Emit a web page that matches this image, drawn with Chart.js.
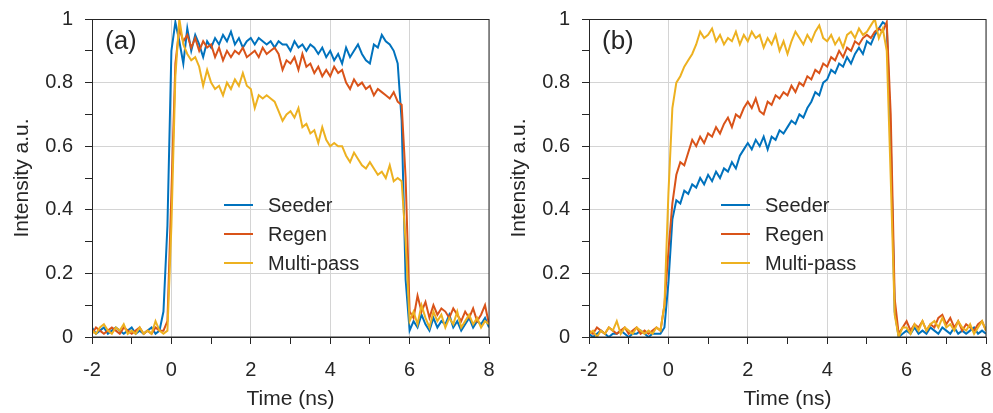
<!DOCTYPE html>
<html>
<head>
<meta charset="utf-8">
<script src="https://cdn.jsdelivr.net/npm/chart.js@4.4.0/dist/chart.umd.min.js"></script>
<style>
  html, body { margin: 0; padding: 0; background: #fff; }
  .panel { position: absolute; top: 0; width: 496px; height: 413px; }
  #panelA { left: 0; }
  #panelB { left: 497px; }
</style>
</head>
<body>
<div class="panel" id="panelA"><canvas id="chartA"></canvas></div>
<div class="panel" id="panelB"><canvas id="chartB"></canvas></div>
<script>
// time axis, ns
const timeNs = [
  -2.0, -1.9, -1.8, -1.7, -1.6, -1.5, -1.4, -1.3, -1.2, -1.1,
  -1.0, -0.9, -0.8, -0.7, -0.6, -0.5, -0.4, -0.3, -0.2, -0.1,
  0.0, 0.1, 0.2, 0.3, 0.4, 0.5, 0.6, 0.7, 0.8, 0.9,
  1.0, 1.1, 1.2, 1.3, 1.4, 1.5, 1.6, 1.7, 1.8, 1.9,
  2.0, 2.1, 2.2, 2.3, 2.4, 2.5, 2.6, 2.7, 2.8, 2.9,
  3.0, 3.1, 3.2, 3.3, 3.4, 3.5, 3.6, 3.7, 3.8, 3.9,
  4.0, 4.1, 4.2, 4.3, 4.4, 4.5, 4.6, 4.7, 4.8, 4.9,
  5.0, 5.1, 5.2, 5.3, 5.4, 5.5, 5.6, 5.7, 5.8, 5.9,
  6.0, 6.1, 6.2, 6.3, 6.4, 6.5, 6.6, 6.7, 6.8, 6.9,
  7.0, 7.1, 7.2, 7.3, 7.4, 7.5, 7.6, 7.7, 7.8, 7.9, 8.0
];

// panel (a)
const seederA = [
  0.03, 0.01, 0.02, 0.03, 0.01, 0.02, 0.03, 0.02, 0.01, 0.02,
  0.03, 0.01, 0.02, 0.01, 0.02, 0.03, 0.01, 0.02, 0.08, 0.35,
  0.90, 0.99, 0.93, 0.86, 0.97, 0.90, 0.95, 0.92, 0.88, 0.93,
  0.91, 0.94, 0.92, 0.95, 0.93, 0.96, 0.92, 0.94, 0.91, 0.93,
  0.94, 0.92, 0.94, 0.93, 0.92, 0.93, 0.91, 0.93, 0.92, 0.92,
  0.90, 0.93, 0.91, 0.92, 0.90, 0.92, 0.91, 0.89, 0.91, 0.88,
  0.90, 0.87, 0.89, 0.86, 0.91, 0.88, 0.90, 0.92, 0.89, 0.87,
  0.86, 0.92, 0.91, 0.95, 0.93, 0.92, 0.90, 0.86, 0.68, 0.18,
  0.02, 0.05, 0.03, 0.07, 0.04, 0.02, 0.06, 0.03, 0.05, 0.04,
  0.07, 0.03, 0.05, 0.02, 0.04, 0.06, 0.03, 0.05, 0.04, 0.06, 0.03
];
const regenA = [
  0.01, 0.03, 0.02, 0.01, 0.02, 0.03, 0.02, 0.01, 0.03, 0.02,
  0.01, 0.02, 0.03, 0.01, 0.02, 0.01, 0.03, 0.02, 0.02, 0.05,
  0.45, 0.86, 0.97, 0.93, 0.95, 0.91, 0.94, 0.90, 0.93, 0.91,
  0.92, 0.88, 0.91, 0.87, 0.90, 0.88, 0.90, 0.89, 0.91, 0.88,
  0.89, 0.90, 0.88, 0.91, 0.89, 0.90, 0.91, 0.89, 0.84, 0.87,
  0.86, 0.88, 0.84, 0.89, 0.85, 0.86, 0.83, 0.85, 0.82, 0.84,
  0.82, 0.85, 0.83, 0.84, 0.80, 0.78, 0.81, 0.79, 0.80, 0.78,
  0.79, 0.76, 0.78, 0.77, 0.76, 0.75, 0.77, 0.74, 0.73, 0.50,
  0.08, 0.06, 0.13, 0.08, 0.11, 0.06, 0.10, 0.07, 0.09, 0.08,
  0.06, 0.09, 0.07, 0.05, 0.08, 0.06, 0.09, 0.05, 0.07, 0.10, 0.04
];
const multiPassA = [
  0.02, 0.01, 0.03, 0.04, 0.02, 0.01, 0.03, 0.02, 0.04, 0.01,
  0.02, 0.01, 0.03, 0.01, 0.02, 0.01, 0.05, 0.02, 0.01, 0.02,
  0.35, 0.82, 1.00, 0.92, 0.89, 0.87, 0.88, 0.85, 0.79, 0.84,
  0.80, 0.78, 0.79, 0.76, 0.80, 0.78, 0.81, 0.79, 0.83, 0.79,
  0.78, 0.72, 0.76, 0.75, 0.76, 0.75, 0.74, 0.71, 0.68, 0.70,
  0.71, 0.69, 0.72, 0.66, 0.67, 0.64, 0.65, 0.61, 0.66, 0.62,
  0.60, 0.61, 0.60, 0.60, 0.57, 0.55, 0.58, 0.56, 0.54, 0.53,
  0.55, 0.53, 0.51, 0.52, 0.50, 0.54, 0.49, 0.50, 0.49, 0.30,
  0.05, 0.08, 0.04, 0.10, 0.06, 0.03, 0.08, 0.05, 0.07, 0.03,
  0.06, 0.04, 0.08, 0.03, 0.05, 0.07, 0.04, 0.06, 0.03, 0.05, 0.04
];

// panel (b)
const seederB = [
  0.01, 0.00, 0.01, 0.02, 0.01, 0.00, 0.01, 0.01, 0.02, 0.01,
  0.00, 0.01, 0.01, 0.02, 0.01, 0.00, 0.01, 0.01, 0.01, 0.03,
  0.17, 0.37, 0.43, 0.42, 0.46, 0.45, 0.48, 0.47, 0.50, 0.48,
  0.51, 0.49, 0.52, 0.50, 0.53, 0.52, 0.55, 0.53, 0.57, 0.59,
  0.61, 0.59, 0.62, 0.60, 0.63, 0.59, 0.63, 0.62, 0.65, 0.64,
  0.66, 0.68, 0.67, 0.70, 0.69, 0.72, 0.74, 0.77, 0.76, 0.80,
  0.81, 0.84, 0.83, 0.86, 0.85, 0.88, 0.86, 0.89, 0.91, 0.89,
  0.93, 0.92, 0.95, 0.97, 0.99, 0.98, 0.62, 0.08, 0.00, 0.01,
  0.02, 0.01, 0.03, 0.01, 0.02, 0.01, 0.03, 0.02, 0.01, 0.03,
  0.02, 0.01, 0.03, 0.01, 0.02, 0.01, 0.02, 0.03, 0.01, 0.02, 0.01
];
const regenB = [
  0.02, 0.01, 0.03, 0.02, 0.01, 0.03, 0.02, 0.01, 0.02, 0.03,
  0.01, 0.02, 0.03, 0.01, 0.02, 0.01, 0.02, 0.03, 0.02, 0.10,
  0.27, 0.42, 0.51, 0.55, 0.54, 0.58, 0.62, 0.60, 0.63, 0.61,
  0.64, 0.63, 0.66, 0.64, 0.67, 0.69, 0.66, 0.70, 0.69, 0.72,
  0.74, 0.72, 0.75, 0.71, 0.70, 0.74, 0.73, 0.76, 0.75, 0.77,
  0.76, 0.79, 0.77, 0.80, 0.79, 0.82, 0.81, 0.84, 0.83, 0.86,
  0.85, 0.88, 0.87, 0.90, 0.88, 0.91, 0.90, 0.93, 0.92, 0.94,
  0.95, 0.94, 0.96, 0.97, 0.96, 0.99, 0.70, 0.12, 0.01, 0.03,
  0.05, 0.02, 0.04, 0.03, 0.05, 0.02, 0.04, 0.03, 0.06, 0.07,
  0.04, 0.06, 0.03, 0.05, 0.02, 0.04, 0.03, 0.02, 0.04, 0.05, 0.02
];
const multiPassB = [
  0.01, 0.02, 0.00, 0.02, 0.01, 0.03, 0.02, 0.05, 0.01, 0.03,
  0.02, 0.01, 0.03, 0.02, 0.01, 0.02, 0.01, 0.03, 0.02, 0.10,
  0.45, 0.72, 0.80, 0.82, 0.85, 0.87, 0.89, 0.92, 0.96, 0.94,
  0.95, 0.97, 0.93, 0.95, 0.92, 0.94, 0.93, 0.96, 0.92, 0.95,
  0.93, 0.96, 0.94, 0.95, 0.91, 0.94, 0.92, 0.95, 0.90, 0.93,
  0.89, 0.93, 0.96, 0.94, 0.92, 0.95, 0.93, 0.96, 0.98, 0.94,
  0.93, 0.95, 0.92, 0.94, 0.91, 0.95, 0.96, 0.94, 0.97, 0.95,
  0.96, 0.98, 1.00, 0.94, 0.97, 0.90, 0.50, 0.07, 0.00, 0.03,
  0.03, 0.01, 0.04, 0.02, 0.05, 0.02, 0.04, 0.05, 0.03, 0.06,
  0.03, 0.04, 0.02, 0.05, 0.03, 0.02, 0.04, 0.01, 0.03, 0.05, 0.02
];

const seriesNames = ['Seeder', 'Regen', 'Multi-pass'];
const seriesColors = ['#0072BD', '#D95319', '#EDB120'];
const xTickLabels = ['-2', '0', '2', '4', '6', '8'];
const yTickLabels = ['0', '0.2', '0.4', '0.6', '0.8', '1'];

const FONT = '"Liberation Sans", Arial, sans-serif';
const INK = '#262626';
const GRID = '#d4d4d4';

// box around the plot, panel letter and the in-plot legend
const decorPlugin = {
  id: 'decor',
  afterDraw(chart, args, opts) {
    const ctx = chart.ctx;
    const a = chart.chartArea;
    ctx.save();
    ctx.strokeStyle = INK;
    ctx.lineWidth = 1;
    ctx.strokeRect(a.left + 0.5, a.top + 0.5, a.right - a.left - 0.5, a.bottom - a.top - 0.5);

    ctx.fillStyle = INK;
    ctx.textBaseline = 'middle';
    ctx.font = '26px ' + FONT;
    ctx.fillText(opts.letter, a.left + 13, a.top + 23);

    ctx.font = '20px ' + FONT;
    chart.data.datasets.forEach(function(ds, i) {
      const yy = a.top + 186 + i * 29;
      ctx.strokeStyle = ds.borderColor;
      ctx.lineWidth = 2;
      ctx.beginPath();
      ctx.moveTo(a.left + 132, yy);
      ctx.lineTo(a.left + 161, yy);
      ctx.stroke();
      ctx.fillText(ds.label, a.left + 176, yy + 1);
    });
    ctx.restore();
  }
};

function makeChart(canvasId, letter, series) {
  const ctx = document.getElementById(canvasId).getContext('2d');
  return new Chart(ctx, {
    type: 'line',
    data: {
      datasets: series.map(function(vals, i) {
        return {
          label: seriesNames[i],
          data: timeNs.map(function(t, k) { return { x: t, y: vals[k] }; }),
          borderColor: seriesColors[i],
          borderWidth: 2,
          pointRadius: 0,
          tension: 0,
          order: 3 - i
        };
      })
    },
    options: {
      responsive: true,
      maintainAspectRatio: false,
      animation: false,
      layout: { padding: { left: 0, top: 19, right: 7, bottom: 0 } },
      scales: {
        x: {
          type: 'linear',
          min: -2,
          max: 8,
          afterFit: function(scale) {
            scale.height = 76;
            scale.paddingLeft = 0;
            scale.paddingRight = 0;
          },
          grid: {
            color: function(c) { return Math.round(c.tick.value) % 2 === 0 ? GRID : 'rgba(0,0,0,0)'; },
            tickColor: INK,
            tickLength: 7
          },
          border: { color: INK, width: 1 },
          ticks: {
            stepSize: 1,
            padding: 14,
            color: INK,
            font: { family: FONT, size: 20 },
            maxRotation: 0,
            autoSkip: false,
            callback: function(v) {
              const i = xTickLabels.indexOf(String(Math.round(v)));
              return (Math.round(v) % 2 === 0 && i >= 0) ? xTickLabels[i] : '';
            }
          },
          title: {
            display: true,
            text: 'Time (ns)',
            color: INK,
            font: { family: FONT, size: 21, lineHeight: 1.2 },
            padding: { top: 0, bottom: 1 }
          }
        },
        y: {
          min: 0,
          max: 1,
          afterFit: function(scale) {
            scale.width = 92;
            scale.paddingTop = 0;
            scale.paddingBottom = 0;
          },
          grid: {
            color: function(c) { return Math.round(c.tick.value * 10) % 2 === 0 ? GRID : 'rgba(0,0,0,0)'; },
            tickColor: INK,
            tickLength: 7
          },
          border: { color: INK, width: 1 },
          ticks: {
            stepSize: 0.1,
            padding: 12,
            color: INK,
            font: { family: FONT, size: 20 },
            autoSkip: false,
            callback: function(v) {
              const n = Math.round(v * 10);
              return n % 2 === 0 ? yTickLabels[n / 2] : '';
            }
          },
          title: {
            display: true,
            text: 'Intensity a.u.',
            color: INK,
            font: { family: FONT, size: 21, lineHeight: 1.2 },
            padding: { top: 10, bottom: 0 }
          }
        }
      },
      plugins: {
        legend: { display: false },
        tooltip: { enabled: false },
        decor: { letter: letter }
      }
    },
    plugins: [decorPlugin]
  });
}

makeChart('chartA', '(a)', [seederA, regenA, multiPassA]);
makeChart('chartB', '(b)', [seederB, regenB, multiPassB]);
</script>
</body>
</html>
